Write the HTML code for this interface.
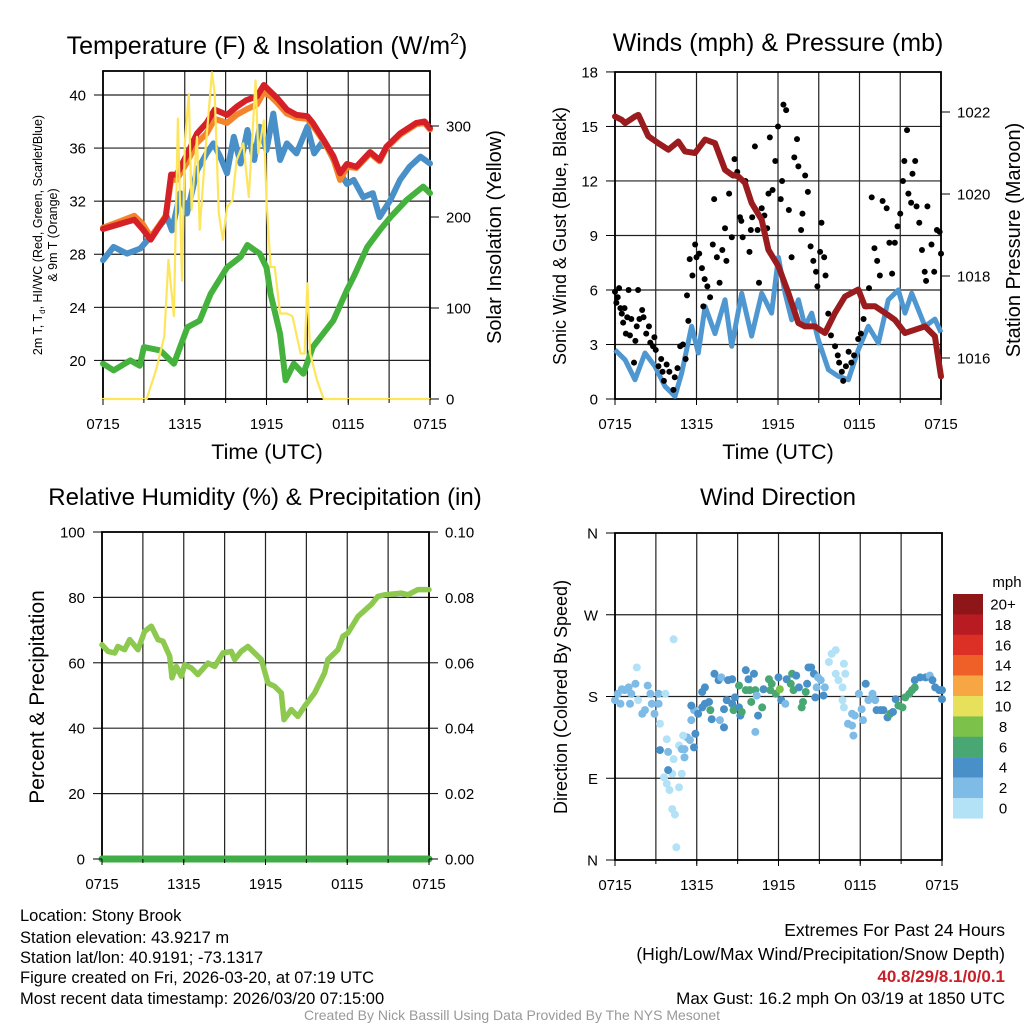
<!DOCTYPE html>
<html><head><meta charset="utf-8"><style>
html,body{margin:0;padding:0;background:#fff;}
svg{display:block;font-family:"Liberation Sans",Arial,sans-serif;}
</style></head><body>
<svg id="fig" width="1024" height="1024" viewBox="0 0 1024 1024" xmlns="http://www.w3.org/2000/svg">
<rect width="1024" height="1024" fill="#fff"/>
<g id="layer"></g>
<text x="20" y="921" font-size="16.5">Location: Stony Brook</text>
<text x="20" y="943" font-size="16.5">Station elevation: 43.9217 m</text>
<text x="20" y="963" font-size="16.5">Station lat/lon: 40.9191; -73.1317</text>
<text x="20" y="983" font-size="16.5">Figure created on Fri, 2026-03-20, at 07:19 UTC</text>
<text x="20" y="1004" font-size="16.5">Most recent data timestamp: 2026/03/20 07:15:00</text>
<text x="1005" y="936" font-size="17.5" text-anchor="end">Extremes For Past 24 Hours</text>
<text x="1005" y="960" font-size="17.5" text-anchor="end">(High/Low/Max Wind/Precipitation/Snow Depth)</text>
<text x="1005" y="982" font-size="17" font-weight="bold" fill="#c8202a" text-anchor="end">40.8/29/8.1/0/0.1</text>
<text x="1005" y="1004" font-size="17" text-anchor="end">Max Gust: 16.2 mph On 03/19 at 1850 UTC</text>
<text x="512" y="1020" font-size="14" fill="#999" text-anchor="middle">Created By Nick Bassill Using Data Provided By The NYS Mesonet</text>
</svg>
<script>
// ---- Data ----
const xTickLabels = ["0715","1315","1915","0115","0715"];
const xTickHours = [0,6,12,18,24];
const tTicks = [20,24,28,32,36,40];
const solarTicks = [0,100,200,300];
const windTicks = [0,3,6,9,12,15,18];
const presTicks = [1016,1018,1020,1022];
const rhTicks = [0,20,40,60,80,100];
const precipTicks = ["0.00","0.02","0.04","0.06","0.08","0.10"];
const dirLabels = ["N","E","S","W","N"];
const dirTicks = [0,90,180,270,360];
const cbarLabels = ["20+","18","16","14","12","10","8","6","4","2","0"];
const cbarColors = ["#8e1518","#b81b22","#dc3027","#ef6029","#f6a744","#e6e05a","#7bc14a","#49a773","#4990c8","#7ebbe6","#b3e2f7"];

const redH = [0,1.3,2.3,2.9,3.5,4,4.6,5,5.4,6.2,6.9,7.6,8.2,9.1,9.8,10.5,11.3,11.8,12.3,12.8,13.5,14.2,15,15.4,16.2,16.9,17.4,17.9,18.6,19.6,20.3,20.8,21.8,23,23.6,24];
const redT = [29.9,30.3,30.6,29.9,29.1,29.9,30.8,34,34,35.6,37.1,37.9,38.9,38.5,39.1,39.6,39.9,40.75,40.25,39.75,38.9,38.5,38.4,37.9,36.6,35.4,34.1,34.8,34.6,35.7,35.1,36.1,37.1,37.9,38,37.5];
const orangeT = [30.0,30.5,30.9,30.3,29.3,30.0,30.9,33.6,33.6,35.0,36.4,37.1,38.2,37.9,38.5,38.9,39.3,40.2,39.9,39.4,38.6,38.3,38.2,37.7,36.5,35.2,33.6,34.6,34.5,35.6,35.0,36.0,37.0,37.8,37.9,37.4];
const blueH = [0,0.78,1.76,2.74,3.47,4.7,5.06,5.67,6.16,6.9,7.6,8.1,8.6,9.1,9.6,10.1,10.6,11.1,11.5,12,12.5,13,13.5,14.2,15,15.5,16.2,17.4,17.9,18.4,19.1,19.8,20.3,21.1,21.8,22.5,23.3,24];
const blueT = [27.55,28.55,28.05,28.43,29.3,30.8,29.8,32.6,31.07,34.3,35.6,36.35,35.35,34.1,36.85,34.84,37.36,35.1,37.6,35.85,38.6,35.1,36.35,35.6,37.6,35.6,36.6,34.1,33.3,33.6,32.3,32.6,30.8,32.1,33.6,34.6,35.35,34.84];
const greenH = [0,0.78,2,2.7,3,4.2,5.2,6.2,7.1,7.9,9.1,10.1,10.6,11.5,12,12.3,13,13.4,14,14.7,15.4,16.9,17.9,18.4,19.4,20.3,21.1,22.3,23.5,24];
const greenT = [19.75,19.25,20,19.6,21,20.75,19.75,22.5,23,25,27,27.8,28.7,28.05,27,25,22,18.5,19.75,19,21,23,25.3,26.3,28.55,29.8,30.8,32.1,33.1,32.6];
const solarH = [0,3.2,3.9,4.5,4.8,5.2,5.5,5.8,6.0,6.3,6.5,6.9,7.1,7.5,8.0,8.2,8.5,8.8,9.1,9.5,9.8,10.3,10.7,11.2,11.4,11.8,12.0,12.3,12.6,13.0,13.5,13.9,14.5,14.8,15.0,15.2,15.7,16.2,24];
const solarW = [0,0,32,69,153,91,308,130,281,335,208,288,186,270,359,335,204,175,211,218,262,281,222,350,270,306,218,145,145,94,94,91,50,50,127,50,21,0,0];

const presH = [0,0.49,0.74,1.47,1.72,2.45,3.19,3.93,4.66,5.15,5.89,6.63,7.36,8.1,8.59,9.08,9.57,10.06,10.8,11.29,12.03,12.76,13.5,13.99,14.72,15.46,16.2,16.93,17.91,18.4,19.14,19.88,20.61,21.35,22.09,22.82,23.55,24];
const presV = [1021.89,1021.81,1021.73,1021.89,1021.93,1021.41,1021.24,1021.08,1021.28,1021.04,1021.0,1021.33,1021.24,1020.59,1020.47,1020.43,1020.27,1019.78,1019.37,1018.64,1018.24,1017.59,1016.85,1016.77,1016.77,1016.61,1017.1,1017.5,1017.67,1017.26,1017.26,1017.1,1016.93,1016.61,1016.69,1016.77,1016.53,1015.55];
const windH = [0,0.74,1.47,2.21,2.94,3.68,4.42,4.91,5.64,6.13,6.63,7.36,8.1,8.59,9.33,10.06,10.8,11.53,12.03,12.52,13.01,13.5,13.99,14.48,14.97,15.71,16.44,17.18,17.91,18.65,19.39,20.12,20.86,21.35,21.84,22.82,23.55,24];
const windS = [2.7,2.16,1.06,2.53,1.8,0.7,0.15,1.43,4.0,2.53,5.1,3.6,5.46,2.9,5.82,3.46,5.82,4.73,7.8,5.82,4.36,5.46,4.0,4.73,3.26,1.61,1.25,1.06,2.71,4.0,3.08,5.46,6.0,4.73,5.82,4.0,4.4,3.66];
const gustH = [0,0.1,0.2,0.3,0.4,0.5,0.6,0.7,0.8,0.9,1.0,1.1,1.2,1.4,1.5,1.6,1.7,1.8,2.0,2.1,2.3,2.5,2.6,2.8,2.9,3.0,3.2,3.4,3.5,3.6,3.8,4.0,4.3,4.4,4.6,4.8,5.0,5.2,5.3,5.4,5.5,5.7,5.9,6.0,6.2,6.4,6.5,6.6,6.8,7.0,7.2,7.3,7.5,7.7,7.9,8.1,8.2,8.4,8.6,8.7,8.8,9.0,9.2,9.3,9.4,9.6,9.9,10.0,10.1,10.3,10.5,10.6,10.8,11.0,11.2,11.3,11.4,11.6,11.8,12.0,12.2,12.3,12.4,12.6,12.8,13.0,13.2,13.4,13.5,13.7,13.8,14.0,14.2,14.4,14.6,14.8,14.9,15.1,15.2,15.4,15.5,15.7,15.9,16.2,16.4,16.5,16.7,16.8,17.0,17.2,17.4,17.6,17.9,18.1,18.3,18.5,18.7,18.9,19.1,19.3,19.5,19.7,20.0,20.2,20.4,20.6,20.8,21.0,21.2,21.3,21.5,21.6,21.8,21.9,22.1,22.2,22.4,22.6,22.8,22.9,23.0,23.3,23.5,23.7,23.9,24];
const gustS = [5.9,5.3,5.6,6.1,5.0,4.7,4.2,5.0,3.6,4.5,6.0,3.5,4.4,2.0,3.2,4.0,6.0,4.4,4.9,4.5,3.6,4.0,3.1,2.9,3.4,2.7,1.8,2.2,1.5,1.0,1.9,1.5,0.5,1.2,1.7,2.9,3.0,2.2,5.7,4.3,7.7,6.8,8.5,7.8,8.0,7.2,5.1,6.6,6.2,5.6,8.5,11.0,7.8,6.4,8.2,9.4,7.6,11.3,8.9,12.3,13.2,12.5,10.0,9.8,8.9,12.0,8.1,9.3,10.0,13.9,9.3,6.4,10.5,10.1,9.4,11.3,14.4,11.5,13.1,15.0,11.0,12.0,16.2,15.9,10.4,7.8,13.3,14.3,12.8,9.3,10.2,12.3,11.4,8.4,7.6,7.0,6.2,8.1,9.7,7.8,6.8,4.7,3.5,2.9,2.4,2.0,1.5,1.0,1.8,2.6,2.0,2.4,3.3,3.6,4.4,5.1,6.1,11.1,8.3,7.6,6.8,10.9,10.5,8.6,6.9,8.6,9.5,10.2,12.0,13.1,14.8,11.3,10.8,12.4,13.1,10.6,9.7,8.2,7.0,6.5,10.6,8.5,7.0,9.3,9.2,8.0];

const rhH = [0,0.44,0.93,1.17,1.66,2.03,2.64,3.13,3.62,4.11,4.48,4.97,5.14,5.45,5.82,6.07,6.56,7.04,7.78,8.27,8.88,9.49,9.74,10.22,10.71,11.2,11.69,12.18,12.67,13.16,13.36,13.89,14.38,14.87,15.61,16.34,16.58,17.32,17.68,18.05,18.79,19.76,20.25,20.74,21.97,22.45,23.19,24];
const rhV = [65.5,63.5,63.0,65.0,64.0,67.1,64.0,69.6,71.2,67.1,66.6,62.0,55.4,58.9,55.9,59.4,58.4,56.4,59.9,58.9,63.0,63.5,61.0,63.5,65.0,63.0,61.0,53.8,52.8,50.8,42.6,45.7,43.6,46.7,50.8,56.9,61.0,64.0,68.1,69.1,74.2,77.8,80.3,80.8,81.3,80.8,82.4,82.4];
const precipH = [0,24];
const precipV = [0,0];

const dirH = [0.0,0.2,0.5,0.7,1.0,1.2,1.5,1.7,1.6,0.4,1.1,2.0,2.2,2.4,2.6,2.7,2.9,3.2,3.2,3.3,3.7,3.8,3.3,3.9,3.6,3.8,4.2,4.3,3.9,4.0,4.7,4.2,4.4,4.5,4.9,4.7,4.9,5.1,5.1,5.3,5.0,5.5,5.8,5.9,5.6,5.8,5.6,6.1,6.4,6.6,6.6,6.4,6.9,7.1,7.0,7.3,7.6,7.8,8.0,7.7,8.0,8.2,8.3,8.6,8.6,8.7,8.8,9.1,9.2,9.3,9.1,9.6,9.8,10.2,9.6,9.9,10.3,10.0,10.4,10.3,10.5,10.8,10.9,11.3,11.5,11.4,11.8,12.0,12.1,12.2,12.5,12.6,12.9,13.0,13.1,13.3,13.5,13.7,13.8,14.0,14.1,14.2,14.4,14.6,14.7,14.8,14.9,15.1,15.3,15.4,15.7,15.9,16.2,16.2,16.4,16.7,16.8,16.9,16.7,16.8,17.4,17.6,17.1,17.4,17.5,17.9,18.1,18.2,18.4,18.6,18.9,19.1,19.2,19.5,19.7,20.0,20.2,20.4,20.6,20.8,21.1,21.3,21.6,21.8,22.0,22.0,22.4,22.8,23.1,23.3,23.5,23.8,24.0,24.0,4.3];
const dirV = [176,183,188,187,190,183,194,176,212,172,172,161,165,192,183,172,161,172,183,150,183,133,121,119,91,84,95,111,99,77,80,56,50,14,95,126,122,113,122,135,137,132,124,139,154,165,170,161,168,172,190,185,174,155,165,205,198,201,146,154,166,176,198,199,172,165,179,168,159,163,192,209,199,205,187,187,187,174,181,141,159,168,188,199,194,187,183,201,188,176,172,199,194,205,187,203,190,168,174,185,194,212,212,205,179,190,201,198,181,190,218,227,231,205,198,190,216,205,176,168,161,159,150,148,137,183,166,154,194,176,183,176,165,165,165,157,161,163,177,170,168,179,183,187,190,198,201,201,203,198,190,187,187,177,243];
const dirS = [3,3,3,3,3,3,3,1,1,3,3,3,3,3,3,3,3,3,3,1,1,1,5,3,1,1,1,1,5,1,1,1,1,1,1,1,3,3,3,3,1,3,5,5,3,3,5,5,5,5,5,5,5,5,7,5,5,3,5,3,5,5,5,5,5,7,5,5,5,7,7,5,5,5,7,7,7,7,3,3,5,7,5,7,7,7,7,5,9,5,3,5,7,7,7,5,5,7,7,7,5,5,5,5,5,3,3,3,5,3,1,1,1,1,1,1,1,1,1,1,3,3,3,3,3,3,3,3,5,3,3,3,5,5,5,5,7,5,5,7,7,7,7,7,7,5,5,5,3,5,5,5,5,5,1];

// ---- helpers ----
const NS = "http://www.w3.org/2000/svg";
const layer = document.getElementById('layer');
function mk(tag, attrs, parent){ const e=document.createElementNS(NS,tag); for(const k in attrs) e.setAttribute(k,attrs[k]); (parent||layer).appendChild(e); return e; }
function txt(s, attrs, parent){ const e=mk('text',attrs,parent); e.textContent=s; return e; }
function pathD(xs, ys, fx, fy){ return xs.map((h,i)=>(i?'L':'M')+fx(h).toFixed(1)+','+fy(ys[i]).toFixed(1)).join(''); }
function speedColor(s){ const idx = Math.min(10, Math.floor(s/2)); return cbarColors[10-idx]; }

function frame(g, L, R, T, B, hGrid, fy){
  for(let k=0;k<=8;k++){ const x=L+(R-L)*k/8;
    const l=mk('line',{x1:x,y1:T,x2:x,y2:B,stroke:'#222','stroke-width':1.2},g);
      }
  hGrid.forEach(v=>{ const y=fy(v);
    const l=mk('line',{x1:L,y1:y,x2:R,y2:y,stroke:'#222','stroke-width':1.2},g);
      });
  const r=mk('rect',{x:L,y:T,width:R-L,height:B-T,fill:'none',stroke:'#000','stroke-width':1.8},g);
   
}
function xAxis(g, L, R, B){
  xTickHours.forEach((h,i)=>{ const x=L+(R-L)*h/24;
    mk('line',{x1:x,y1:B,x2:x,y2:B+6,stroke:'#000'},g);
    const t=txt(xTickLabels[i],{x:x,y:B+30,'font-size':15,'text-anchor':'middle'},g);
      });
  for(let k=0;k<=8;k++){ const x=L+(R-L)*k/8; mk('line',{x1:x,y1:B,x2:x,y2:B+4,stroke:'#000'},g); }
}
function yLeft(g, L, vals, labels, fy){
  vals.forEach((v,i)=>{ const y=fy(v);
    mk('line',{x1:L-9,y1:y,x2:L,y2:y,stroke:'#000'},g);
    const t=txt(labels[i],{x:L-17,y:y+5.5,'font-size':15,'text-anchor':'end'},g);
      });
}
function yRight(g, R, vals, labels, fy){
  vals.forEach((v,i)=>{ const y=fy(v);
    mk('line',{x1:R,y1:y,x2:R+9,y2:y,stroke:'#000'},g);
    const t=txt(labels[i],{x:R+16,y:y+5.5,'font-size':15,'text-anchor':'start'},g);
      });
}

// ---- Panel 1 ----
{
  const g=mk('g',{});  
  const L=103,R=430,T=71,B=399;
  const fx=h=>L+(R-L)*h/24, fy=t=>95+(40-t)*13.27, fw=w=>399-w*0.91;
  frame(g,L,R,T,B,tTicks,fy);
  const specs=[[greenH,greenT,'#45b23e','dewpoint-line',fy,6],[blueH,blueT,'#4a90c8','heat-index-windchill-line',fy,6],[redH,orangeT,'#f4842c','9m-temperature-line',fy,6],[redH,redT,'#d42026','2m-temperature-line',fy,6],[solarH,solarW,'#fde55c','solar-insolation-line',fw,2.2]];
  specs.forEach(s=>{ const p=mk('path',{d:pathD(s[0],s[1],fx,s[4]),fill:'none',stroke:s[2],'stroke-width':s[5],'stroke-linejoin':'round','stroke-linecap':'round'},g);
      });
  xAxis(g,L,R,B); yLeft(g,L,tTicks,tTicks.map(String),fy); yRight(g,R,solarTicks,solarTicks.map(String),fw);
  const t1=txt('',{x:267,y:54,'font-size':25,'text-anchor':'middle'},g); t1.innerHTML='Temperature (F) &amp; Insolation (W/m<tspan font-size="16" dy="-10">2</tspan><tspan dy="10">)</tspan>';
   
  const xt=txt('Time (UTC)',{x:267,y:459,'font-size':21.5,'text-anchor':'middle'},g);  
  const yl=txt('',{x:0,y:0,'font-size':12.5,'text-anchor':'middle',transform:'translate(42,235) rotate(-90)'},g);
  yl.innerHTML='2m T, T<tspan font-size="8" dy="3">d</tspan><tspan dy="-3">, HI/WC (Red, Green, Scarlet/Blue)</tspan>';
   
  const yl2=txt('& 9m T (Orange)',{x:0,y:0,'font-size':12.5,'text-anchor':'middle',transform:'translate(57,235) rotate(-90)'},g);
   
  const yr=txt('Solar Insolation (Yellow)',{x:0,y:0,'font-size':20,'text-anchor':'middle',transform:'translate(501,237) rotate(-90)'},g);
   
}
// ---- Panel 2 ----
{
  const g=mk('g',{});  
  const L=615,R=941,T=72,B=399;
  const fx=h=>L+(R-L)*h/24, fy=s=>399-s*18.17, fp=p=>112+(1022-p)*41;
  frame(g,L,R,T,B,windTicks.slice(1,6),fy);
  const w=mk('path',{d:pathD(windH,windS,fx,fy),fill:'none',stroke:'#4f97d1','stroke-width':5,'stroke-linejoin':'round'},g);
   
  gustH.forEach((h,i)=>{ const c=mk('circle',{cx:fx(h),cy:fy(gustS[i]),r:3,fill:'#000'},g);
      });
  const p=mk('path',{d:pathD(presH,presV,fx,fp),fill:'none',stroke:'#9b1c1f','stroke-width':6,'stroke-linejoin':'round','stroke-linecap':'round'},g);
   
  xAxis(g,L,R,B); yLeft(g,L,windTicks,windTicks.map(String),fy); yRight(g,R,presTicks,presTicks.map(String),fp);
  const t=txt('Winds (mph) & Pressure (mb)',{x:778,y:51,'font-size':25,'text-anchor':'middle'},g);  
  const xt=txt('Time (UTC)',{x:778,y:459,'font-size':21.5,'text-anchor':'middle'},g);  
  const yl=txt('Sonic Wind & Gust (Blue, Black)',{x:0,y:0,'font-size':18,'text-anchor':'middle',transform:'translate(566,236) rotate(-90)'},g);  
  const yr=txt('Station Pressure (Maroon)',{x:0,y:0,'font-size':20,'text-anchor':'middle',transform:'translate(1020,240) rotate(-90)'},g);  
}
// ---- Panel 3 ----
{
  const g=mk('g',{});  
  const L=102,R=429,T=532,B=859;
  const fx=h=>L+(R-L)*h/24, fy=r=>859-r*3.27, fpr=v=>859-v*3270;
  frame(g,L,R,T,B,rhTicks.slice(1,5),fy);
  const p=mk('path',{d:pathD(rhH,rhV,fx,fy),fill:'none',stroke:'#8dc94f','stroke-width':5.5,'stroke-linejoin':'round','stroke-linecap':'round'},g);
   
  const pr=mk('path',{d:pathD(precipH,precipV,fx,fpr),fill:'none',stroke:'#3fae46','stroke-width':7,'stroke-linecap':'round'},g);
   
  xAxis(g,L,R,B); yLeft(g,L,rhTicks,rhTicks.map(String),fy); yRight(g,R,[0,0.02,0.04,0.06,0.08,0.1],precipTicks,fpr);
  const t=txt('Relative Humidity (%) & Precipitation (in)',{x:265,y:505,'font-size':24,'text-anchor':'middle'},g);  
  const yl=txt('Percent & Precipitation',{x:0,y:0,'font-size':21,'text-anchor':'middle',transform:'translate(44,697) rotate(-90)'},g);  
}
// ---- Panel 4 ----
{
  const g=mk('g',{});  
  const L=615,R=942,T=533,B=860;
  const fx=h=>L+(R-L)*h/24, fy=d=>860-d*0.9083;
  frame(g,L,R,T,B,[90,180,270],fy);
  dirH.forEach((h,i)=>{ const c=mk('circle',{cx:fx(h),cy:fy(dirV[i]),r:4,fill:speedColor(dirS[i])},g);
      });
  xAxis(g,L,R,B); yLeft(g,L,dirTicks,dirLabels,fy);
  const t=txt('Wind Direction',{x:778,y:505,'font-size':24,'text-anchor':'middle'},g);  
  const yl=txt('Direction (Colored By Speed)',{x:0,y:0,'font-size':18,'text-anchor':'middle',transform:'translate(567,697) rotate(-90)'},g);  
  const cb=mk('g',{},g);  
  cbarColors.forEach((c,i)=>{ const r=mk('rect',{x:953,y:594+i*20.4,width:30,height:20.6,fill:c},cb);
     
    const l=txt(cbarLabels[i],{x:1003,y:594+i*20.4+15.5,'font-size':15,'text-anchor':'middle'},cb);
      });
  const u=txt('mph',{x:1007,y:587,'font-size':15,'text-anchor':'middle'},cb);  
}
</script>
</body></html>
